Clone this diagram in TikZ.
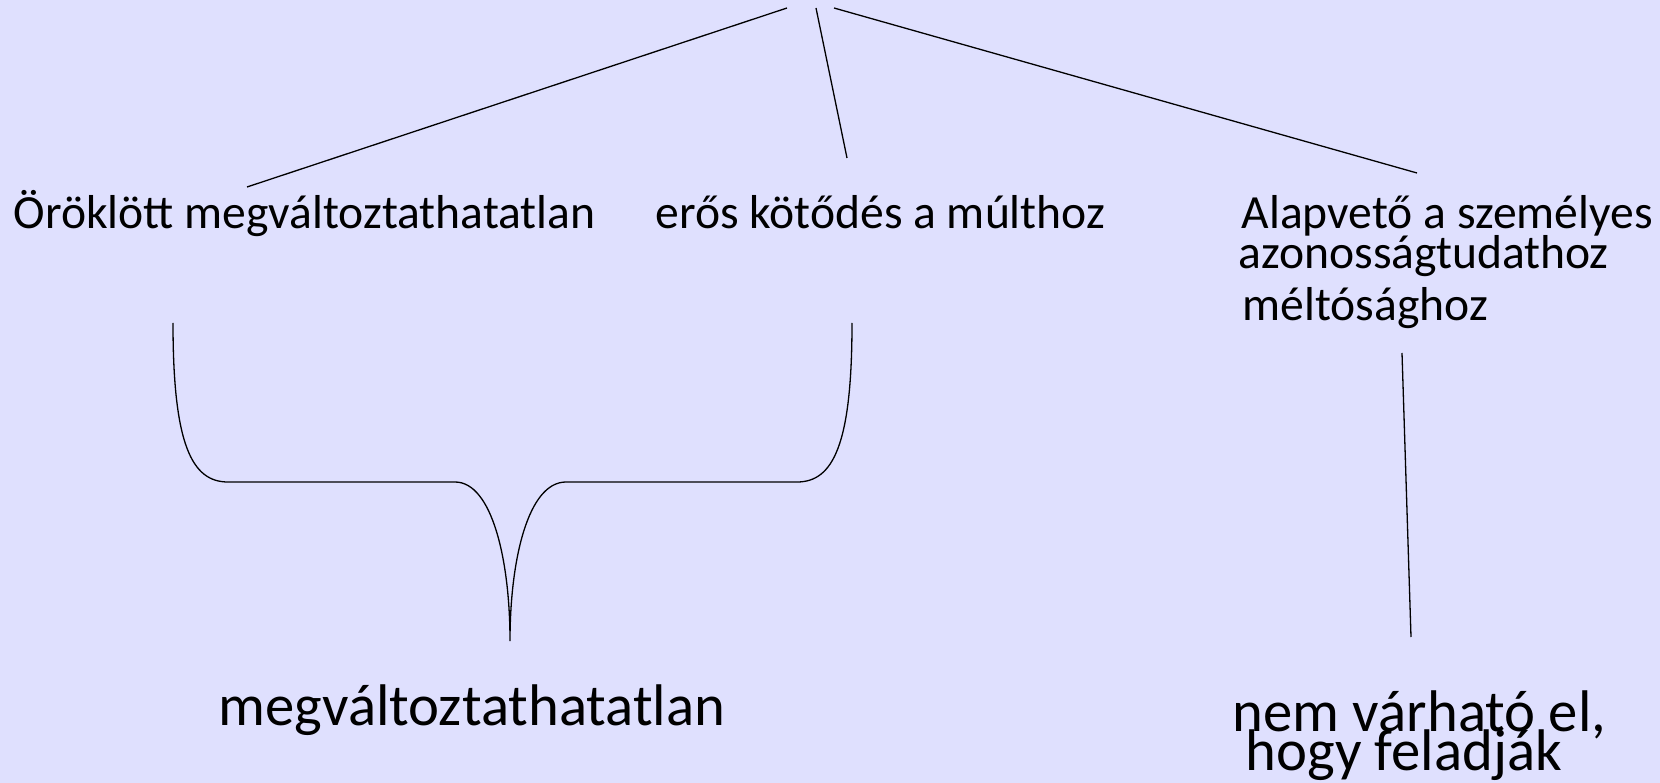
\documentclass[tikz,border=0pt]{standalone}
\usepackage{fontspec}
\setmainfont{Carlito}
\usepackage{tikz}
\usetikzlibrary{positioning}
\definecolor{SlideLilac}{RGB}{223,224,254}
\newcommand{\tightlines}{\lineskiplimit=-100pt\relax}

\begin{document}
\begin{tikzpicture}[x=1pt, y=-1pt, line width=1.3pt,
    leaf/.style={anchor=base west, inner sep=0pt, align=left,
        font=\fontsize{47.6}{40}\selectfont\tightlines},
    result/.style={anchor=base west, inner sep=0pt, align=left,
        font=\fontsize{58.7}{39}\selectfont\tightlines}]
    \fill[SlideLilac] (0,0) rectangle (1660,783);
    \useasboundingbox (0,0) rectangle (1660,783);
    % upper ends of the three branches (title is cut off above)
    \coordinate (rootL) at (787,8);
    \coordinate (rootM) at (816,8);
    \coordinate (rootR) at (834,8);
    \node[leaf] (orokolt) at (13,229) {Öröklött megváltoztathatatlan};
    \node[leaf] (multhoz) at (655,229) {erős kötődés a múlthoz};
    % base of a multi-line node is its last line
    \node[leaf] (alap) at (1241,321)
        {Alapvető a személyes\\\hspace*{-3pt}azonosságtudathoz\\[12pt]\hspace*{1pt}méltósághoz};
    \node[result] (megvalt) at (218,725) {megváltoztathatatlan};
    \node[result] (nemvar) at (1232,770) {nem várható el,\\\hspace*{13pt}hogy feladják};
    \coordinate (endL) at (247,187);
    \coordinate (endM) at (847,158);
    \coordinate (endR) at (1417,173);
    \draw (rootL) -- (endL);
    \draw (rootM) -- (endM);
    \draw (rootR) -- (endR);
    % brace under the first two
    \coordinate (braceL) at (173,323);
    \coordinate (braceR) at (852,323);
    \coordinate (braceTip) at (510,641);
    \draw (braceL) .. controls (173,445) and (192,482) .. (228,482) -- (455,482)
        .. controls (492,482) and (510,560) .. (braceTip)
        .. controls (510,560) and (528,482) .. (566,482) -- (797,482)
        .. controls (833,482) and (852,445) .. (braceR);
    % right branch
    \coordinate (alapEnd) at (1402,353);
    \coordinate (nemvarEnd) at (1411,637);
    \draw (alapEnd) -- (nemvarEnd);
\end{tikzpicture}
\end{document}
